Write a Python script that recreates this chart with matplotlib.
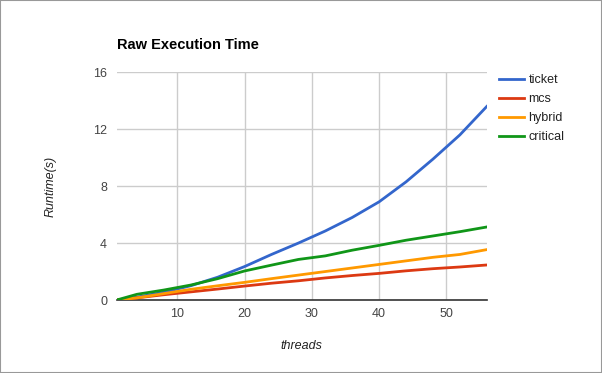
import matplotlib.pyplot as plt
from matplotlib.patches import Rectangle

plt.rcParams['font.family'] = ['Liberation Sans', 'DejaVu Sans']

threads = [1, 4, 8, 12, 16, 20, 24, 28, 32, 36, 40, 44, 48, 52, 56]
ticket = [0, 0.2, 0.55, 1.0, 1.6, 2.35, 3.2, 4.0, 4.85, 5.8, 6.9, 8.3, 9.9, 11.6, 13.6]
mcs = [0, 0.15, 0.37, 0.57, 0.77, 0.98, 1.18, 1.35, 1.55, 1.72, 1.87, 2.05, 2.2, 2.32, 2.46]
hybrid = [0, 0.15, 0.45, 0.75, 1.0, 1.24, 1.5, 1.75, 2.0, 2.25, 2.5, 2.75, 3.0, 3.2, 3.54]
critical = [0, 0.4, 0.7, 1.05, 1.5, 2.04, 2.45, 2.85, 3.1, 3.5, 3.84, 4.2, 4.5, 4.8, 5.13]

series = [("ticket", ticket, "#3366cc"),
          ("mcs", mcs, "#dc3912"),
          ("hybrid", hybrid, "#ff9900"),
          ("critical", critical, "#109618")]

x_ticks = [10, 20, 30, 40, 50]
y_ticks = [0, 4, 8, 12, 16]

fig = plt.figure(figsize=(6.02, 3.73), dpi=100)
fig.patches.append(Rectangle((0, 0), 1, 1, transform=fig.transFigure,
                             fill=False, edgecolor="#999999", linewidth=1.5))
ax = fig.add_axes([0.1939, 0.1957, 0.6147, 0.6105])

for name, vals, color in series:
    ax.plot(threads, vals, color=color, linewidth=2, label=name,
            solid_joinstyle="round", zorder=3)

ax.set_xlim(1, 56)
ax.set_ylim(0, 16)
ax.set_xticks(x_ticks)
ax.set_yticks(y_ticks)
ax.grid(True, color="#cccccc", linewidth=1)
ax.set_axisbelow(True)
for side in ["top", "right", "left"]:
    ax.spines[side].set_visible(False)
ax.spines["bottom"].set_color("#333333")
ax.spines["bottom"].set_linewidth(1.2)
ax.spines["bottom"].set_zorder(2)
ax.tick_params(length=0, labelsize=9, labelcolor="#444444", pad=7)
ax.tick_params(axis="x", pad=6)

ax.set_xlabel("threads", fontstyle="italic", fontsize=9, color="#222222", labelpad=14)
ax.set_ylabel("Runtime(s)", fontstyle="italic", fontsize=9, color="#222222", labelpad=26)
fig.text(0.1944, 0.88, "Raw Execution Time", fontsize=10.5, fontweight="bold",
         ha="left", va="center")

leg = ax.legend(loc="upper left", bbox_to_anchor=(1.02, 1.013), frameon=False,
                fontsize=9, handlelength=1.95, handletextpad=0.4,
                labelspacing=0.56, borderaxespad=0)
for t in leg.get_texts():
    t.set_color("#222222")

fig.savefig("out.png", dpi=100)
